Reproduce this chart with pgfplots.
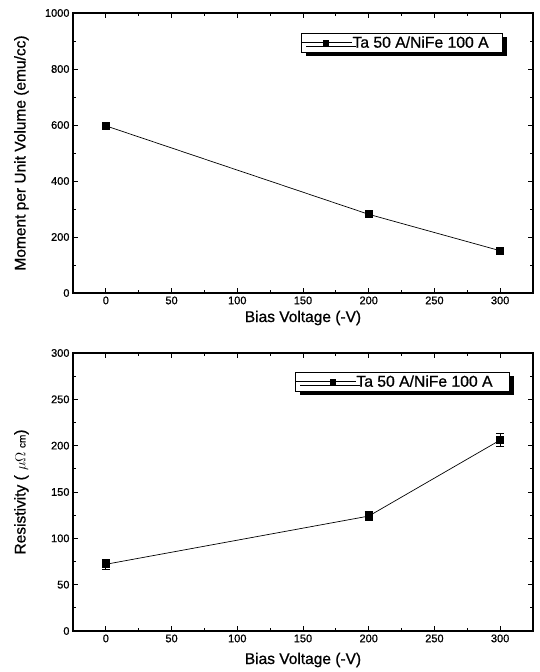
\documentclass[border=0pt]{standalone}
\usepackage{pgfplots}
\pgfplotsset{compat=1.18}
\usepackage{fontspec}
\setmainfont[FakeBold=0.8]{Liberation Sans}
\usetikzlibrary{shadows}

\pgfplotsset{
  panel/.style={
    scale only axis,
    width=460pt,
    xmin=-25, xmax=325,
    xtick={0,50,...,300},
    minor x tick num=1,
    tick align=inside,
    tick pos=both,
    major tick length=5pt,
    minor tick length=3pt,
    axis line style={line width=1.1pt},
    tick style={line width=0.9pt, black},
    every tick label/.append style={font=\fontsize{11}{13}\selectfont},
    /pgf/number format/assume math mode=true,
    /pgf/number format/set thousands separator={},
    xlabel={Bias Voltage (-V)},
    every axis x label/.style={at={(axis description cs:0.5,0)}, anchor=center,
      font=\fontsize{15.5}{18}\selectfont},
    every axis y label/.style={at={(axis description cs:-0.112,0.5)}, anchor=center,
      rotate=90, font=\fontsize{15.5}{18}\selectfont},
    legend style={anchor=north east, draw=black, line width=0.9pt,
      fill=white, drop shadow={shadow xshift=4pt, shadow yshift=-4pt, fill=black, opacity=1},
      font=\fontsize{15.7}{18}\selectfont, inner xsep=0pt, inner ysep=1pt,
      nodes={inner xsep=0pt, inner ysep=2pt}},
    legend cell align=left,
  },
  series/.style={black, line width=0.7pt, mark=square*, mark size=3.5pt, mark options={solid}},
}

\begin{document}
\begin{tikzpicture}
\useasboundingbox (0,0) rectangle (539pt,672pt);

\begin{axis}[panel,
  at={(73pt,379pt)}, anchor=south west,
  height=280pt,
  ymin=0, ymax=1000,
  ytick={0,200,...,1000},
  minor y tick num=1,
  xlabel style={yshift=-25pt},
  ylabel={Moment per Unit Volume (emu/cc)},
  legend style={at={(0.935,0.929)}},
  legend image code/.code={
    \path (0pt,0pt) -- (50pt,0pt);
    \draw[mark repeat=2, mark phase=2, #1, mark size=2.5pt]
      plot coordinates {(5pt,0pt) (24pt,0pt) (43pt,0pt)};
  },
]
\addplot[series] coordinates {
(0, 597)
(200, 281)
(300, 151)
};
\addlegendentry{Ta 50 A/NiFe 100 A\hspace*{14pt}}
\end{axis}

\begin{axis}[panel,
  at={(73pt,41pt)}, anchor=south west,
  height=278pt,
  ymin=0, ymax=300,
  ytick={0,50,...,300},
  minor y tick num=1,
  xlabel style={yshift=-29pt},
  ylabel={Resistivity ( $\mu\Omega$ {\fontsize{10}{11}\selectfont cm})},
  legend style={at={(0.95,0.932)}},
  legend image code/.code={
    \path (0pt,0pt) -- (60pt,0pt);
    \draw[mark repeat=2, mark phase=2, #1, mark size=2.5pt]
      plot coordinates {(17pt,0pt) (37pt,0pt) (57pt,0pt)};
  },
]
\addplot[series, error bars/.cd, y dir=both, y explicit,
  error bar style={line width=0.8pt}, error mark options={rotate=90, mark size=4pt, line width=0.8pt}]
coordinates {
(0, 72) +- (0, 5)
(200, 124) +- (0, 5)
(300, 206) +- (0, 7)
};
\addlegendentry{Ta 50 A/NiFe 100 A\hspace*{17pt}}
\end{axis}
\end{tikzpicture}
\end{document}
